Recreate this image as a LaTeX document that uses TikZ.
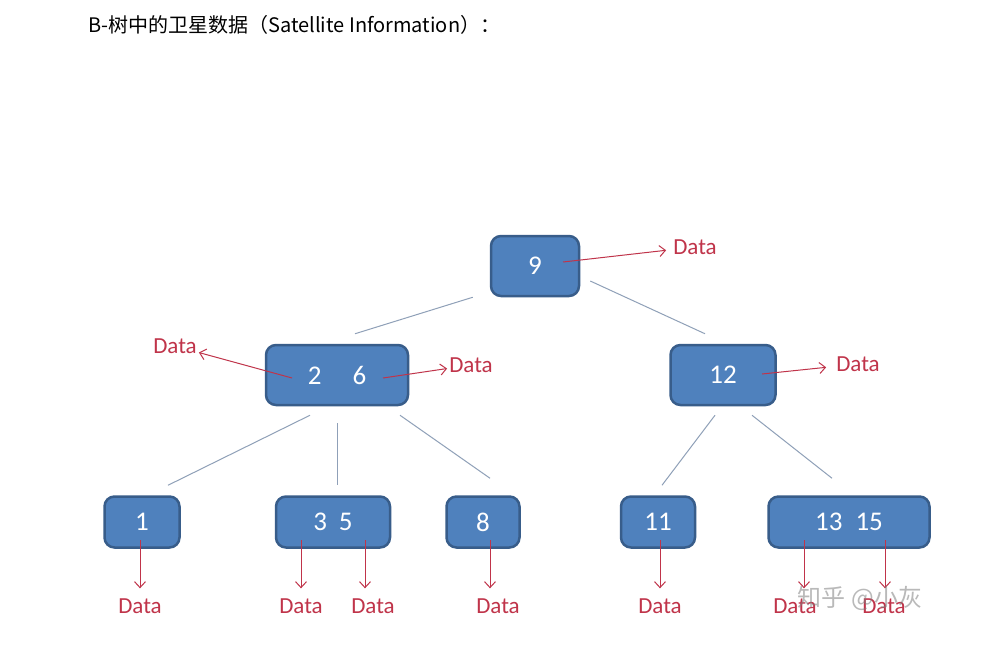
\documentclass[tikz,border=0pt]{standalone}
\usepackage{fontspec}
\setmainfont{Carlito}
\newfontfamily\cjk{Noto Sans CJK SC}
\usepackage{tikz}
\usetikzlibrary{arrows.meta,calc}
\definecolor{keyfill}{HTML}{4F81BD}
\definecolor{keydraw}{HTML}{385D8A}
\definecolor{branch}{HTML}{8FA0B8}
\definecolor{datared}{HTML}{C0344A}

\begin{document}
\begin{tikzpicture}[x=1pt, y=-1pt,
    keynode/.style={rectangle, rounded corners=10pt, draw=keydraw, line width=2.5pt, fill=keyfill,
      text=white, font=\fontsize{27}{32}\selectfont, inner sep=0pt, minimum height=60pt},
    leafnode/.style={keynode, minimum height=51pt},
    datalabel/.style={text=datared, font=\fontsize{23}{27}\selectfont, inner sep=2pt},
    dataarrow/.style={draw=datared, line width=1pt, -{Straight Barb[length=6pt, width=11pt]}},
    edge/.style={draw=branch, line width=1pt}]
  \useasboundingbox (0,0) rectangle (982,669);
  \fill[white] (0,0) rectangle (982,669);

  % Title
  \node[anchor=west, inner sep=0pt, font=\cjk\fontsize{20}{24}\selectfont] (title) at (88,25) {B-树中的卫星数据（Satellite Information）：};

  % Keys
  \node[keynode, minimum width=88pt] (root) at (535,266) {9};
  \node[keynode, minimum width=142pt] (n26) at (337,375) {2\hspace{31pt}6};
  \node[keynode, minimum width=105pt] (n12) at (723,375) {12};
  \node[leafnode, minimum width=75pt] (n1) at (142,522) {1};
  \node[leafnode, minimum width=114pt] (n35) at (333,522) {3\hspace{12pt}5};
  \node[leafnode, minimum width=73pt] (n8) at (483,522) {8};
  \node[leafnode, minimum width=74pt] (n11) at (658,522) {11};
  \node[leafnode, minimum width=161pt] (n1315) at (849,522) {13\hspace{13pt}15};

  % Branches
  \draw[edge] ([xshift=-17pt]root.south west) -- ([xshift=18pt, yshift=10pt]n26.north);
  \draw[edge] ([xshift=10pt, yshift=-15pt]root.east) -- ([xshift=-18pt, yshift=10pt]n12.north);
  \draw[edge] ([xshift=-27pt, yshift=-9pt]n26.south) -- ([xshift=26pt, yshift=10pt]n1.north);
  \draw[edge] ([yshift=-17pt]n26.south) -- ([xshift=4pt, yshift=10pt]n35.north);
  \draw[edge] ([xshift=63pt, yshift=-9pt]n26.south) -- ([xshift=7pt, yshift=17pt]n8.north);
  \draw[edge] ([xshift=-8pt, yshift=-9pt]n12.south) -- ([xshift=4pt, yshift=10pt]n11.north);
  \draw[edge] ([xshift=29pt, yshift=-9pt]n12.south) -- ([xshift=-17pt, yshift=17pt]n1315.north);

  % Data labels
  \node[datalabel] (d9) at (695,247) {Data};
  \node[datalabel] (d2) at (175,346) {Data};
  \node[datalabel] (d6) at (471,365) {Data};
  \node[datalabel] (d12) at (858,364) {Data};
  \node[datalabel] (d1) at (140,606) {Data};
  \node[datalabel] (d3) at (301,606) {Data};
  \node[datalabel] (d5) at (373,606) {Data};
  \node[datalabel] (d8) at (498,606) {Data};
  \node[datalabel] (d11) at (660,606) {Data};
  \node[datalabel] (d13) at (795,606) {Data};
  \node[datalabel] (d15) at (884,606) {Data};

  % Data pointers
  \draw[dataarrow, shorten >=5pt] ([xshift=28pt, yshift=4pt]root.center) -- (d9);
  \draw[dataarrow] ([xshift=-45pt, yshift=-3pt]n26.center) -- (d2);
  \draw[dataarrow] ([xshift=46pt, yshift=-3pt]n26.center) -- (d6);
  \draw[dataarrow, shorten >=8pt] ([xshift=39pt, yshift=1pt]n12.center) -- (d12);
  \foreach \src/\dst/\dx in {n1/d1/-2, n35/d3/-32, n35/d5/32, n8/d8/7, n11/d11/2, n1315/d13/-45, n1315/d15/36} {
    \coordinate (s) at ([xshift=\dx pt, yshift=-18pt]\src.center);
    \draw[dataarrow, shorten >=8pt] (s) -- (s |- \dst.north);
  }

  % Watermark
  \node[text=gray, opacity=0.55, font=\cjk\fontsize{24}{28}\selectfont, inner sep=0pt] (mark) at (860,598) {知乎 @小灰};
\end{tikzpicture}
\end{document}
